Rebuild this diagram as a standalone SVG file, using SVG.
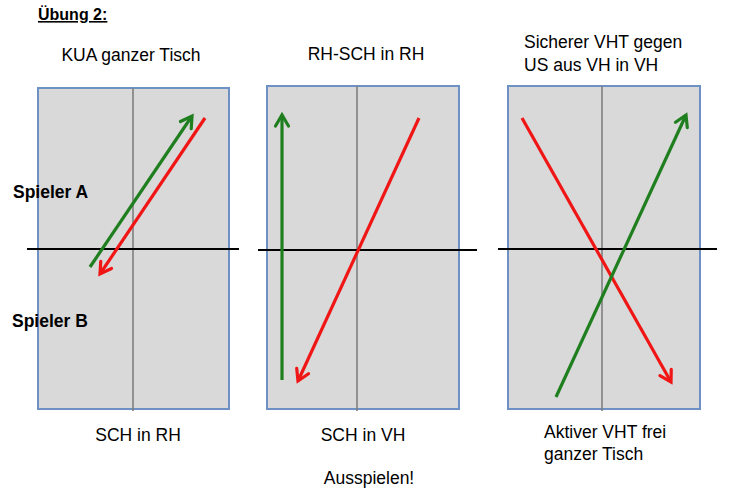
<svg xmlns="http://www.w3.org/2000/svg" width="743" height="500" viewBox="0 0 743 500">
<style>
.t{font-family:"Liberation Sans",Arial,sans-serif;fill:#000;font-size:17.5px}
.b{font-weight:bold}
.table{fill:#d9d9d9;stroke:#6d91c4;stroke-width:2}
.mid{stroke:#7f7f7f;stroke-width:1.6}
.net{stroke:#000;stroke-width:2}
.g{stroke:#1f7f1f;stroke-width:3.2;fill:none}
.r{stroke:#f01616;stroke-width:3.2;fill:none}
</style>
<defs>
<marker id="ag" markerUnits="userSpaceOnUse" markerWidth="20" markerHeight="20" refX="0" refY="0" viewBox="-14 -10 20 20" orient="auto">
<path d="M-11,-6.5 L0,0 L-11,6.5" fill="none" stroke="#1f7f1f" stroke-width="3.2" stroke-linecap="round" stroke-linejoin="miter"/>
</marker>
<marker id="ar" markerUnits="userSpaceOnUse" markerWidth="20" markerHeight="20" refX="0" refY="0" viewBox="-14 -10 20 20" orient="auto">
<path d="M-11,-6.5 L0,0 L-11,6.5" fill="none" stroke="#f01616" stroke-width="3.2" stroke-linecap="round" stroke-linejoin="miter"/>
</marker>
</defs>
<rect width="743" height="500" fill="#fff"/>
<text class="t b" x="38" y="20" text-decoration="underline" style="font-size:16px">Übung 2:</text>
<g id="table1">
<rect class="table" x="38" y="88" width="191" height="321"/>
<line class="mid" x1="133" y1="88" x2="133" y2="411"/>
<line class="net" x1="27" y1="249" x2="239" y2="249"/>
<text class="t" x="131" y="61" text-anchor="middle">KUA ganzer Tisch</text>
<text class="t" x="138" y="441" text-anchor="middle">SCH in RH</text>
</g>
<g id="table2">
<rect class="table" x="267" y="86" width="192" height="323"/>
<line class="mid" x1="357" y1="86" x2="357" y2="411"/>
<line class="net" x1="258" y1="250" x2="477" y2="250"/>
<text class="t" x="366" y="60" text-anchor="middle">RH-SCH in RH</text>
<text class="t" x="363" y="441" text-anchor="middle">SCH in VH</text>
</g>
<g id="table3">
<rect class="table" x="508" y="86" width="192" height="323"/>
<line class="mid" x1="602" y1="86" x2="602" y2="411"/>
<line class="net" x1="498" y1="249" x2="717" y2="249"/>
<text class="t" x="524" y="48">Sicherer VHT gegen</text>
<text class="t" x="524" y="71">US aus VH in VH</text>
<text class="t" x="544" y="438">Aktiver VHT frei</text>
<text class="t" x="544" y="460">ganzer Tisch</text>
</g>
<text class="t b" x="13" y="198">Spieler A</text>
<text class="t b" x="12" y="327">Spieler B</text>
<text class="t" x="369" y="484" text-anchor="middle">Ausspielen!</text>
<g id="connectors">
<line class="g" x1="90" y1="267" x2="192" y2="116" marker-end="url(#ag)"/>
<line class="r" x1="205" y1="118" x2="100" y2="274" marker-end="url(#ar)"/>
<line class="g" x1="282" y1="380" x2="282" y2="115" marker-end="url(#ag)"/>
<line class="r" x1="419" y1="118" x2="298" y2="381" marker-end="url(#ar)"/>
<line class="r" x1="522" y1="118" x2="671" y2="382" marker-end="url(#ar)"/>
<line class="g" x1="556" y1="397" x2="686" y2="115" marker-end="url(#ag)"/>
</g>
</svg>
